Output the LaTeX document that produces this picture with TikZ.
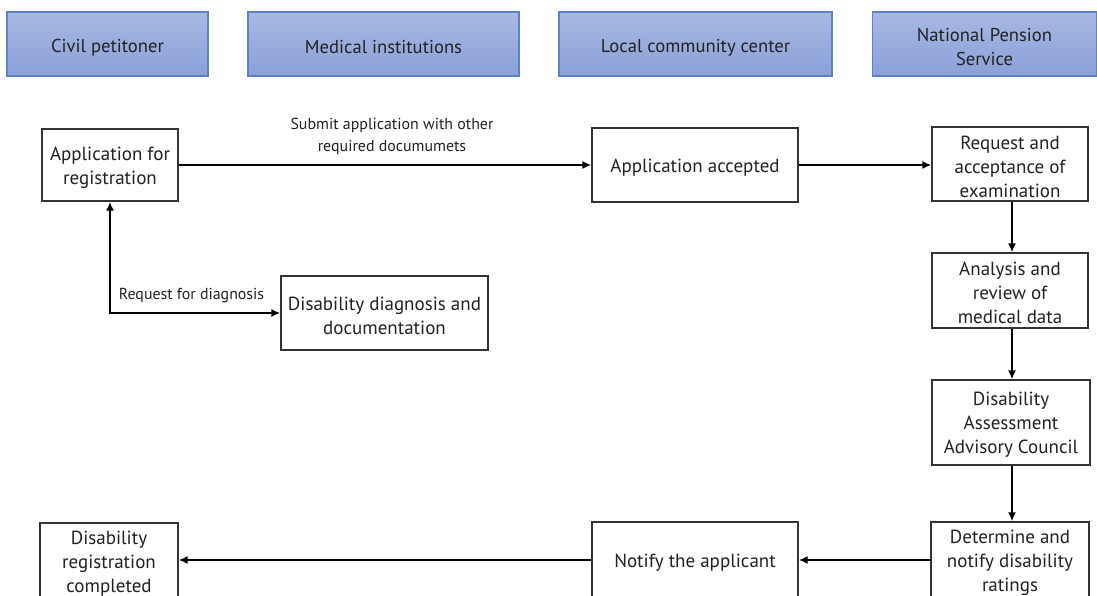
\documentclass[tikz,border=0pt]{standalone}
\usepackage{fontspec}
\setmainfont{PT Sans}
\usetikzlibrary{arrows.meta}
\definecolor{hdrtop}{HTML}{A8B8E2}
\definecolor{hdrbot}{HTML}{8AA0D8}
\definecolor{hdrline}{HTML}{5E82C8}
\definecolor{boxline}{HTML}{333333}
\definecolor{txt}{HTML}{222222}
\tikzset{
  hdr/.style={draw=hdrline, line width=1.2pt, top color=hdrtop, bottom color=hdrbot,
    minimum height=64pt, inner sep=0pt},
  hdrtxt/.style={label={[inner sep=0pt, align=center, text=txt, yshift=-3.5pt,
    font=\fontsize{18.6}{24}\selectfont]center:#1}},
  stepbox/.style={draw=boxline, line width=1.3pt, fill=white, inner sep=0pt},
  steptxt/.style={label={[inner sep=0pt, align=center, text=txt, yshift=-2.5pt,
    font=\fontsize{19}{24}\selectfont]center:#1}},
  arr/.style={line width=2pt, -{Latex[length=9pt,width=8pt]}},
  lbl/.style={inner sep=0pt, align=center, text=txt, font=\fontsize{15.9}{22}\selectfont}
}
\begin{document}
\begin{tikzpicture}[x=1pt,y=-1pt]
\useasboundingbox (0,0) rectangle (1097,596);
\clip (0,0) rectangle (1097,596);
% headers
\node[hdr, minimum width=201pt, hdrtxt={Civil petitoner}] (h1) at (107.5,44) {};
\node[hdr, minimum width=271pt, hdrtxt={Medical institutions}] (h2) at (383.5,44) {};
\node[hdr, minimum width=273pt, hdrtxt={Local community center}] (h3) at (695.5,44) {};
\node[hdr, minimum width=224pt, hdrtxt={National Pension\\Service}] (h4) at (984.5,44) {};
% steps
\node[stepbox, minimum width=136pt, minimum height=72pt, steptxt={Application for\\registration}] (app) at (110,165) {};
\node[stepbox, minimum width=206pt, minimum height=74pt, steptxt={Application accepted}] (acc) at (695,165) {};
\node[stepbox, minimum width=156pt, minimum height=74pt, steptxt={Request and\\acceptance of\\examination}] (req) at (1010,164) {};
\node[stepbox, minimum width=156pt, minimum height=75pt, steptxt={Analysis and\\review of\\medical data}] (ana) at (1010,290.5) {};
\node[stepbox, minimum width=158pt, minimum height=85pt, steptxt={Disability\\Assessment\\Advisory Council}] (dac) at (1011,422.5) {};
\node[stepbox, minimum width=158pt, minimum height=76pt, steptxt={Determine and\\notify disability\\ratings}] (det) at (1010,560) {};
\node[stepbox, minimum width=207pt, minimum height=74pt, steptxt={Disability diagnosis and\\documentation}] (dia) at (384.5,313) {};
\node[stepbox, minimum width=206pt, minimum height=76pt, steptxt={Notify the applicant}] (ntf) at (695,560) {};
\node[stepbox, minimum width=138pt, minimum height=76pt, steptxt={Disability\\registration\\completed}] (reg) at (109,561) {};
% connectors
\draw[arr] (app.east) -- (acc.west);
\node[lbl] (sublbl) at (392,136) {Submit application with other\\required documumets};
\draw[arr] (acc.east) -- (req.west |- acc.east);
\draw[arr] (req.south -| 1012,0) -- (ana.north -| 1012,0);
\draw[arr] (ana.south -| 1012,0) -- (dac.north -| 1012,0);
\draw[arr] (dac.south -| 1012,0) -- (det.north -| 1012,0);
\draw[arr] (det.west) -- (ntf.east);
\draw[arr] (ntf.west) -- (reg.east |- ntf.west);
\draw[line width=2pt, {Latex[length=9pt,width=8pt]}-{Latex[length=9pt,width=8pt]}] (app.south) |- (dia.west);
\node[lbl] (reqlbl) at (191.5,296) {Request for diagnosis};
\end{tikzpicture}
\end{document}
